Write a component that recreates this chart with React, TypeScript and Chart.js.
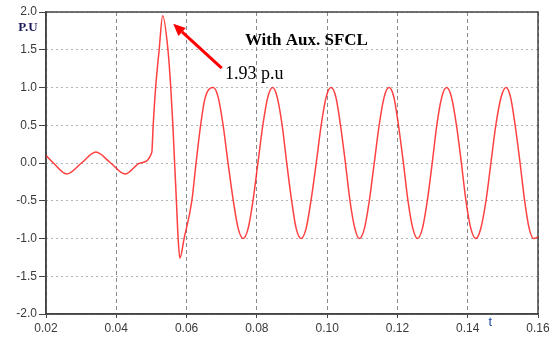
import React, { useEffect, useRef } from "react";
import { Chart, registerables } from "chart.js";

Chart.register(...registerables);

// Time (s) and per-unit values
const timeValues = [
  0.0200, 0.0221, 0.0259, 0.0301, 0.0342, 0.0384, 0.0425, 0.0468, 0.0501,
  0.0505, 0.0512, 0.0522, 0.0532, 0.0547, 0.0555, 0.0561, 0.0566, 0.0571, 0.0576, 0.0581,
  0.0593, 0.0615, 0.0627, 0.0640, 0.0652,
  0.0676, 0.0690, 0.0704, 0.0718, 0.0733, 0.0747, 0.0761, 0.0775, 0.0789, 0.0803, 0.0817, 0.0831,
  0.0845, 0.0858, 0.0872, 0.0885, 0.0899, 0.0912, 0.0926, 0.0940, 0.0954, 0.0969, 0.0983, 0.0997,
  0.1011, 0.1025, 0.1038, 0.1052, 0.1065, 0.1079, 0.1092, 0.1106, 0.1120, 0.1134, 0.1148, 0.1162,
  0.1176, 0.1190, 0.1203, 0.1217, 0.1230, 0.1244, 0.1257, 0.1271, 0.1285, 0.1299, 0.1312, 0.1326,
  0.1340, 0.1354, 0.1368, 0.1382, 0.1395, 0.1409, 0.1423, 0.1437, 0.1452, 0.1466, 0.1480, 0.1495,
  0.1509, 0.1522, 0.1535, 0.1549, 0.1562, 0.1575, 0.1588, 0.1600,
];
const puValues = [
  0.10, 0.0, -0.146, 0.0, 0.145, 0.0, -0.146, 0.0, 0.14,
  0.5, 1.0, 1.5, 1.95, 1.5, 1.0, 0.5, 0.0, -0.5, -1.0, -1.26,
  -1.0, -0.5, 0.0, 0.5, 0.85,
  1.0, 0.87, 0.5, 0.0, -0.5, -0.87, -1.0, -0.87, -0.5, 0.0, 0.5, 0.87,
  1.0, 0.87, 0.5, 0.0, -0.5, -0.87, -1.0, -0.87, -0.5, 0.0, 0.5, 0.87,
  1.0, 0.87, 0.5, 0.0, -0.5, -0.87, -1.0, -0.87, -0.5, 0.0, 0.5, 0.87,
  1.0, 0.87, 0.5, 0.0, -0.5, -0.87, -1.0, -0.87, -0.5, 0.0, 0.5, 0.87,
  1.0, 0.87, 0.5, 0.0, -0.5, -0.87, -1.0, -0.87, -0.5, 0.0, 0.5, 0.87,
  1.0, 0.87, 0.5, 0.0, -0.5, -0.87, -1.0, -0.98,
];

const X_MIN = 0.02;
const X_MAX = 0.16;
const X_STEP = 0.02;
const Y_MIN = -2.0;
const Y_MAX = 2.0;
const Y_STEP = 0.5;

const TITLE_TEXT = "With Aux. SFCL";
const PEAK_TEXT = "1.93 p.u";
const Y_TITLE = "P.U";
const X_TITLE = "t";

// annotation anchors in data coordinates
const TITLE_AT = [0.0941, 1.62];
const PEAK_TEXT_AT = [0.0709, 1.17];
const ARROW_TAIL = [0.0700, 1.256];
const ARROW_HEAD = [0.0562, 1.843];
const X_TITLE_AT = 0.1464;

const overlayPlugin = {
  id: "overlay",
  beforeDatasetsDraw(chart: any) {
    const { ctx, chartArea } = chart;
    ctx.save();
    ctx.strokeStyle = "#444";
    ctx.lineWidth = 1.5;
    ctx.strokeRect(chartArea.left, chartArea.top, chartArea.right - chartArea.left, chartArea.bottom - chartArea.top);
    ctx.restore();
  },
  afterDatasetsDraw(chart: any) {
    const { ctx, chartArea, scales } = chart;
    const xs = scales.x;
    const ys = scales.y;
    ctx.save();
    ctx.fillStyle = "#000";
    ctx.font = "bold 17px 'Liberation Serif', serif";
    ctx.textAlign = "center";
    ctx.textBaseline = "middle";
    ctx.fillText(TITLE_TEXT, xs.getPixelForValue(TITLE_AT[0]), ys.getPixelForValue(TITLE_AT[1]));
    ctx.font = "18px 'Liberation Serif', serif";
    ctx.textAlign = "left";
    ctx.fillText(PEAK_TEXT, xs.getPixelForValue(PEAK_TEXT_AT[0]), ys.getPixelForValue(PEAK_TEXT_AT[1]));
    // arrow
    const tx = xs.getPixelForValue(ARROW_TAIL[0]);
    const ty = ys.getPixelForValue(ARROW_TAIL[1]);
    const hx = xs.getPixelForValue(ARROW_HEAD[0]);
    const hy = ys.getPixelForValue(ARROW_HEAD[1]);
    const ang = Math.atan2(hy - ty, hx - tx);
    const headLen = 12;
    const headHalf = 5.5;
    const bx = hx - headLen * Math.cos(ang);
    const by = hy - headLen * Math.sin(ang);
    ctx.strokeStyle = "#f00";
    ctx.fillStyle = "#f00";
    ctx.lineWidth = 3;
    ctx.beginPath();
    ctx.moveTo(tx, ty);
    ctx.lineTo(bx, by);
    ctx.stroke();
    ctx.beginPath();
    ctx.moveTo(hx, hy);
    ctx.lineTo(bx + headHalf * Math.sin(ang), by - headHalf * Math.cos(ang));
    ctx.lineTo(bx - headHalf * Math.sin(ang), by + headHalf * Math.cos(ang));
    ctx.closePath();
    ctx.fill();
    // axis titles
    ctx.fillStyle = "#1c1c5c";
    ctx.font = "bold 13px 'Liberation Serif', serif";
    ctx.textAlign = "center";
    ctx.fillText(Y_TITLE, chartArea.left - 18, chartArea.top + 16);
    ctx.fillStyle = "#1f4fa0";
    ctx.font = "13px 'Liberation Sans', sans-serif";
    ctx.fillText(X_TITLE, xs.getPixelForValue(X_TITLE_AT), chartArea.bottom + 8);
    ctx.restore();
  },
};

export default function App() {
  const canvasRef = useRef<HTMLCanvasElement | null>(null);

  useEffect(() => {
    if (!canvasRef.current) return;
    const points = timeValues.map((t, i) => ({ x: t, y: puValues[i] }));
    const chart = new Chart(canvasRef.current, {
      type: "line",
      data: {
        datasets: [
          {
            data: points,
            borderColor: "rgba(255,30,30,0.85)",
            borderWidth: 1.5,
            pointRadius: 0,
            fill: false,
            cubicInterpolationMode: "monotone",
          },
        ],
      },
      options: {
        responsive: false,
        maintainAspectRatio: false,
        animation: false,
        layout: { padding: { left: 0, top: 12, right: 15, bottom: 0 } },
        plugins: { legend: { display: false }, tooltip: { enabled: false } },
        scales: {
          x: {
            type: "linear",
            min: X_MIN,
            max: X_MAX,
            afterFit: (s: any) => {
              s.height = 28;
            },
            ticks: {
              stepSize: X_STEP,
              color: "#3a3a3a",
              font: { family: "'Liberation Sans', Arial, sans-serif", size: 12 },
              padding: 3,
              maxRotation: 0,
              callback: (v: any) => Number(v).toFixed(2),
            },
            grid: {
              color: "#8a8a8a",
              lineWidth: 1,
              drawTicks: true,
              tickLength: 4,
              tickColor: "#444",
              tickWidth: 1,
              tickBorderDash: [],
            },
            border: { display: true, color: "#444", width: 1.5, dash: [4, 3] },
          },
          y: {
            min: Y_MIN,
            max: Y_MAX,
            afterFit: (s: any) => {
              s.width = 46;
            },
            ticks: {
              stepSize: Y_STEP,
              color: "#3a3a3a",
              font: { family: "'Liberation Sans', Arial, sans-serif", size: 12 },
              padding: 2,
              callback: (v: any) => Number(v).toFixed(1),
            },
            grid: {
              color: "#666",
              lineWidth: 1,
              drawTicks: true,
              tickLength: 7,
              tickColor: "#444",
              tickWidth: 1,
              tickBorderDash: [],
            },
            border: { display: true, color: "#444", width: 1.5, dash: [1, 4] },
          },
        },
      },
      plugins: [overlayPlugin],
    });
    return () => chart.destroy();
  }, []);

  return (
    <div style={{ position: "fixed", left: 0, top: 0, width: 553, height: 342, background: "#fff" }}>
      <canvas ref={canvasRef} width={553} height={342} style={{ width: 553, height: 342, display: "block" }} />
    </div>
  );
}
